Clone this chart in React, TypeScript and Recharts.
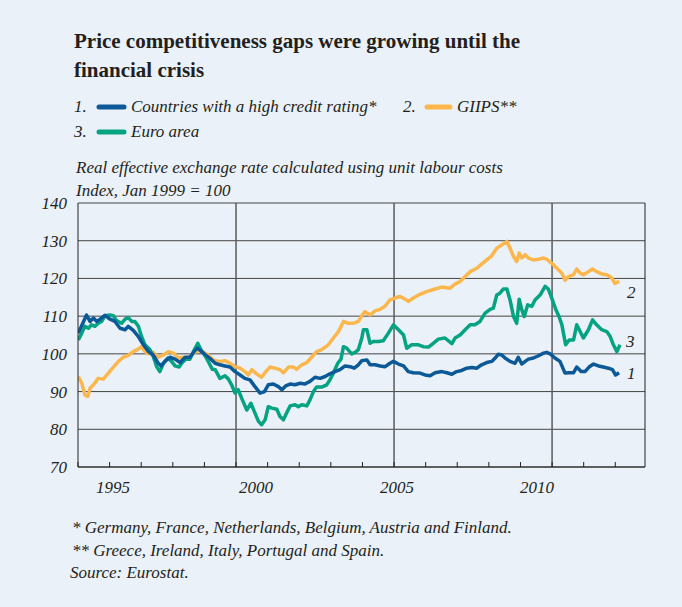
import { LineChart, Line, XAxis, YAxis, CartesianGrid, ReferenceLine } from "recharts";

// [decimal year, index value]
const HIGH_RATING: [number, number][] = [
  [1995.01, 105.5], [1995.27, 110.3], [1995.38, 108.6], [1995.49, 109.5], [1995.59, 108.6],
  [1995.7, 109.2], [1995.85, 110.2], [1996.01, 109.2], [1996.17, 108.6], [1996.33, 106.8],
  [1996.49, 106.4], [1996.59, 107.3], [1996.75, 106.2], [1996.91, 104.6], [1997.07, 102.4],
  [1997.23, 100.6], [1997.38, 99.7], [1997.54, 97.5], [1997.63, 96.8], [1997.75, 98.0],
  [1997.91, 99.1], [1998.07, 98.6], [1998.23, 97.7], [1998.39, 99.1], [1998.54, 99.1],
  [1998.7, 100.9], [1998.79, 101.5], [1998.91, 100.6], [1999.07, 99.5], [1999.23, 98.4],
  [1999.34, 97.5], [1999.49, 97.1], [1999.65, 96.8], [1999.81, 96.5], [1999.97, 95.3],
  [2000.13, 94.4], [2000.28, 93.5], [2000.44, 93.1], [2000.6, 91.3], [2000.76, 89.6],
  [2000.9, 90.0], [2001.02, 91.8], [2001.18, 92.0], [2001.34, 91.3], [2001.45, 90.5],
  [2001.57, 91.5], [2001.71, 92.0], [2001.87, 91.8], [2002.03, 92.2], [2002.18, 92.0],
  [2002.34, 92.7], [2002.5, 93.8], [2002.66, 93.5], [2002.82, 94.0], [2002.97, 94.7],
  [2003.13, 95.3], [2003.29, 95.8], [2003.45, 96.8], [2003.61, 96.6], [2003.74, 96.2],
  [2003.87, 97.1], [2003.98, 98.2], [2004.14, 98.4], [2004.24, 97.1], [2004.4, 97.1],
  [2004.56, 96.8], [2004.72, 96.6], [2004.87, 97.5], [2004.98, 98.0], [2005.14, 97.3],
  [2005.3, 96.8], [2005.45, 95.3], [2005.61, 95.0], [2005.82, 94.9], [2005.98, 94.4],
  [2006.14, 94.2], [2006.3, 95.0], [2006.51, 95.3], [2006.67, 95.0], [2006.83, 94.6],
  [2006.98, 95.3], [2007.14, 95.6], [2007.3, 96.2], [2007.46, 96.4], [2007.62, 96.2],
  [2007.77, 97.1], [2007.93, 97.7], [2008.09, 98.0], [2008.2, 98.9], [2008.3, 99.9],
  [2008.41, 99.7], [2008.51, 98.9], [2008.67, 98.0], [2008.83, 97.5], [2008.93, 99.1],
  [2009.04, 97.3], [2009.15, 98.0], [2009.25, 98.6], [2009.41, 98.9], [2009.57, 99.5],
  [2009.73, 100.2], [2009.83, 100.4], [2009.94, 100.0], [2010.09, 98.9], [2010.25, 98.0],
  [2010.41, 94.9], [2010.54, 95.0], [2010.68, 95.0], [2010.78, 96.5], [2010.92, 95.3],
  [2011.04, 95.3], [2011.17, 96.5], [2011.31, 97.3], [2011.47, 96.8], [2011.62, 96.5],
  [2011.78, 96.2], [2011.91, 95.8], [2012.01, 94.4], [2012.12, 95.0],
];

const GIIPS: [number, number][] = [
  [1995.01, 94.0], [1995.12, 92.2], [1995.22, 89.1], [1995.31, 88.7], [1995.38, 90.9],
  [1995.49, 91.8], [1995.64, 93.5], [1995.8, 93.3], [1995.96, 94.9], [1996.12, 96.5],
  [1996.28, 98.0], [1996.43, 99.1], [1996.59, 99.6], [1996.75, 100.6], [1996.91, 101.3],
  [1997.01, 101.9], [1997.12, 100.6], [1997.23, 100.0], [1997.38, 100.4], [1997.54, 99.1],
  [1997.7, 99.7], [1997.86, 100.6], [1998.02, 100.2], [1998.18, 98.9], [1998.33, 99.1],
  [1998.49, 98.9], [1998.65, 100.2], [1998.81, 100.9], [1998.97, 100.4], [1999.12, 99.7],
  [1999.28, 98.4], [1999.34, 98.2], [1999.49, 98.0], [1999.65, 98.2], [1999.81, 97.5],
  [1999.97, 96.6], [2000.13, 96.2], [2000.28, 95.3], [2000.39, 94.4], [2000.5, 95.8],
  [2000.65, 94.7], [2000.81, 93.8], [2000.97, 95.6], [2001.08, 96.5], [2001.23, 96.2],
  [2001.39, 95.8], [2001.5, 95.0], [2001.66, 96.5], [2001.81, 96.5], [2001.92, 95.9],
  [2002.08, 97.1], [2002.24, 97.7], [2002.39, 99.1], [2002.55, 100.6], [2002.71, 101.1],
  [2002.92, 102.4], [2003.08, 104.2], [2003.24, 105.9], [2003.4, 108.6], [2003.55, 108.1],
  [2003.71, 108.1], [2003.87, 108.6], [2003.98, 110.1], [2004.08, 111.2], [2004.24, 110.3],
  [2004.4, 111.4], [2004.56, 111.8], [2004.72, 112.7], [2004.87, 114.3], [2005.03, 114.8],
  [2005.19, 115.2], [2005.35, 114.5], [2005.45, 113.9], [2005.61, 114.8], [2005.82, 115.8],
  [2006.03, 116.5], [2006.3, 117.2], [2006.51, 117.7], [2006.77, 117.4], [2006.93, 118.5],
  [2007.09, 119.2], [2007.25, 120.5], [2007.41, 121.8], [2007.62, 122.7], [2007.77, 123.8],
  [2007.93, 124.9], [2008.09, 126.0], [2008.25, 128.0], [2008.41, 128.9], [2008.57, 129.8],
  [2008.67, 128.0], [2008.78, 125.8], [2008.88, 124.5], [2008.96, 126.7], [2009.04, 125.4],
  [2009.15, 126.3], [2009.25, 125.4], [2009.41, 124.9], [2009.57, 125.1], [2009.73, 125.4],
  [2009.83, 125.1], [2009.99, 124.0], [2010.15, 122.7], [2010.31, 121.4], [2010.41, 119.5],
  [2010.52, 120.5], [2010.68, 121.0], [2010.78, 122.5], [2010.89, 121.4], [2010.99, 121.0],
  [2011.15, 121.8], [2011.28, 122.5], [2011.41, 121.8], [2011.57, 121.2], [2011.73, 121.0],
  [2011.89, 120.1], [2011.99, 118.7], [2012.12, 119.2],
];

const EURO_AREA: [number, number][] = [
  [1995.01, 103.7], [1995.12, 105.5], [1995.22, 107.3], [1995.33, 106.8], [1995.43, 107.7],
  [1995.54, 107.3], [1995.64, 108.1], [1995.75, 108.6], [1995.85, 110.1], [1996.01, 110.3],
  [1996.12, 110.1], [1996.22, 108.8], [1996.38, 108.1], [1996.49, 109.2], [1996.59, 109.6],
  [1996.7, 108.6], [1996.8, 108.6], [1996.91, 107.3], [1997.01, 104.6], [1997.12, 102.4],
  [1997.28, 101.1], [1997.38, 99.3], [1997.49, 96.6], [1997.59, 95.3], [1997.7, 97.5],
  [1997.84, 98.9], [1997.96, 98.0], [1998.07, 96.8], [1998.2, 96.5], [1998.3, 97.7],
  [1998.41, 98.6], [1998.54, 98.6], [1998.68, 101.1], [1998.79, 102.8], [1998.89, 101.1],
  [1999.02, 99.5], [1999.12, 98.0], [1999.25, 95.9], [1999.34, 95.8], [1999.49, 93.5],
  [1999.65, 94.2], [1999.76, 93.3], [1999.86, 91.8], [1999.97, 89.6], [2000.07, 90.5],
  [2000.18, 88.2], [2000.34, 85.1], [2000.47, 86.9], [2000.6, 84.3], [2000.71, 82.1],
  [2000.81, 81.2], [2000.92, 82.5], [2001.02, 86.0], [2001.13, 85.6], [2001.29, 85.3],
  [2001.39, 83.4], [2001.5, 82.5], [2001.6, 84.3], [2001.71, 86.2], [2001.87, 86.5],
  [2001.97, 86.0], [2002.08, 86.5], [2002.24, 86.2], [2002.34, 87.8], [2002.45, 90.0],
  [2002.55, 91.2], [2002.71, 91.2], [2002.87, 91.8], [2002.97, 93.1], [2003.08, 94.9],
  [2003.22, 97.5], [2003.32, 98.6], [2003.4, 101.9], [2003.5, 101.5], [2003.66, 100.0],
  [2003.77, 100.4], [2003.87, 101.1], [2003.98, 104.2], [2004.03, 106.4], [2004.14, 106.4],
  [2004.24, 102.8], [2004.35, 103.3], [2004.5, 103.3], [2004.66, 103.5], [2004.82, 105.5],
  [2004.98, 107.7], [2005.14, 106.4], [2005.3, 105.0], [2005.4, 101.5], [2005.56, 102.4],
  [2005.77, 102.4], [2005.93, 101.9], [2006.09, 101.8], [2006.24, 102.8], [2006.4, 103.9],
  [2006.61, 104.2], [2006.83, 102.7], [2006.93, 104.2], [2007.09, 105.0], [2007.25, 106.4],
  [2007.41, 107.7], [2007.56, 107.7], [2007.72, 108.6], [2007.88, 110.8], [2008.04, 111.8],
  [2008.14, 112.1], [2008.25, 115.6], [2008.35, 116.1], [2008.46, 117.2], [2008.57, 117.2],
  [2008.67, 114.3], [2008.78, 109.9], [2008.88, 108.1], [2008.96, 114.5], [2009.04, 111.7],
  [2009.12, 109.9], [2009.23, 113.0], [2009.36, 112.6], [2009.46, 114.3], [2009.62, 115.6],
  [2009.78, 117.9], [2009.88, 117.2], [2010.01, 114.3], [2010.12, 111.7], [2010.22, 109.9],
  [2010.31, 107.7], [2010.43, 102.4], [2010.54, 103.7], [2010.68, 103.7], [2010.78, 107.7],
  [2010.89, 105.9], [2010.99, 104.2], [2011.15, 106.4], [2011.28, 109.0], [2011.41, 107.7],
  [2011.57, 106.4], [2011.73, 105.9], [2011.84, 104.6], [2011.94, 102.4], [2012.05, 100.6],
  [2012.15, 102.4],
];

const YEAR_TICKS = [
  1995, 1996, 1997, 1998, 1999, 2000, 2001, 2002, 2003, 2004, 2005, 2006, 2007, 2008,
  2009, 2010, 2011, 2012,
];
const GRID_YEARS = [2000, 2005, 2010];
const Y_TICKS = [70, 80, 90, 100, 110, 120, 130, 140];
const X_MAX = 2012.94;

// labels in the original sit a little off their tick marks
const LABEL_SHIFT: Record<number, number> = { 1995: 35, 2000: 20, 2005: 3, 2010: -15 };

const BLUE = "#0b5a97";
const ORANGE = "#fbb74c";
const GREEN = "#04a382";
const INK = "#231f20";
const BG = "#eaf1f8";
const SERIF = "'Liberation Serif', 'DejaVu Serif', serif";

const toRows = (pts: [number, number][]) => pts.map(([t, v]) => ({ t, v }));

function YearTick({ x, y, payload }: { x?: number; y?: number; payload?: { value: number } }) {
  if (x === undefined || y === undefined || !payload) return null;
  const shift = LABEL_SHIFT[payload.value];
  return (
    <g>
      <line x1={x} x2={x} y1={y - 5} y2={y} stroke="#222" strokeWidth={1} />
      {shift !== undefined && (
        <text
          x={x + shift}
          y={y + 26}
          textAnchor="middle"
          fontFamily={SERIF}
          fontStyle="italic"
          fontSize={17}
          fill={INK}
        >
          {payload.value}
        </text>
      )}
    </g>
  );
}

function ValueTick({ x, y, payload }: { x?: number; y?: number; payload?: { value: number } }) {
  if (x === undefined || y === undefined || !payload) return null;
  return (
    <text
      x={x}
      y={y + 6}
      textAnchor="end"
      fontFamily={SERIF}
      fontStyle="italic"
      fontSize={17}
      fill={INK}
    >
      {payload.value}
    </text>
  );
}

export default function App() {
  const textProps = { fontFamily: SERIF, fill: INK };
  return (
    <div
      style={{
        position: "absolute",
        left: 0,
        top: 0,
        width: 682,
        height: 607,
        background: BG,
      }}
    >
      <LineChart
        width={682}
        height={607}
        margin={{ top: 203, right: 37, bottom: 100, left: 0 }}
      >
        <CartesianGrid vertical={false} stroke="#444" strokeWidth={1} />
        <XAxis
          dataKey="t"
          type="number"
          domain={[1995, X_MAX]}
          ticks={YEAR_TICKS}
          interval={0}
          allowDataOverflow
          height={40}
          tickSize={0}
          tickMargin={0}
          tickLine={false}
          axisLine={{ stroke: "#222" }}
          tick={(p: any) => <YearTick {...p} />}
        />
        <YAxis
          type="number"
          domain={[70, 140]}
          ticks={Y_TICKS}
          width={78}
          tickLine={false}
          tickSize={0}
          tickMargin={11}
          axisLine={{ stroke: "#222" }}
          tick={(p: any) => <ValueTick {...p} />}
        />
        {GRID_YEARS.map((yr) => (
          <ReferenceLine key={yr} x={yr} stroke="#5a5a5a" strokeWidth={1.5} />
        ))}
        <ReferenceLine x={X_MAX} stroke="#222" strokeWidth={1} />
        <Line
          data={toRows(GIIPS)}
          dataKey="v"
          type="linear"
          stroke={ORANGE}
          strokeWidth={3.5}
          strokeLinejoin="round"
          dot={false}
          isAnimationActive={false}
        />
        <Line
          data={toRows(EURO_AREA)}
          dataKey="v"
          type="linear"
          stroke={GREEN}
          strokeWidth={3.5}
          strokeLinejoin="round"
          dot={false}
          isAnimationActive={false}
        />
        <Line
          data={toRows(HIGH_RATING)}
          dataKey="v"
          type="linear"
          stroke={BLUE}
          strokeWidth={3.5}
          strokeLinejoin="round"
          dot={false}
          isAnimationActive={false}
        />
      </LineChart>

      <svg
        width={682}
        height={607}
        style={{ position: "absolute", left: 0, top: 0, pointerEvents: "none" }}
      >
        <text x={74} y={48} fontSize={21} fontWeight="bold" {...textProps}>
          Price competitiveness gaps were growing until the
        </text>
        <text x={74} y={77} fontSize={21} fontWeight="bold" {...textProps}>
          financial crisis
        </text>

        <g fontSize={17} fontStyle="italic" {...textProps}>
          <text x={74} y={112}>1.</text>
          <text x={131} y={112}>Countries with a high credit rating*</text>
          <text x={403} y={112}>2.</text>
          <text x={457} y={112}>GIIPS**</text>
          <text x={74} y={137}>3.</text>
          <text x={131} y={137}>Euro area</text>

          <text x={76} y={173}>Real effective exchange rate calculated using unit labour costs</text>
          <text x={76} y={196}>Index, Jan 1999 = 100</text>

          <text x={627} y={298}>2</text>
          <text x={626} y={347}>3</text>
          <text x={627} y={379}>1</text>

          <text x={72} y={533}>* Germany, France, Netherlands, Belgium, Austria and Finland.</text>
          <text x={72} y={556}>** Greece, Ireland, Italy, Portugal and Spain.</text>
          <text x={70} y={578}>Source: Eurostat.</text>
        </g>
        <line x1={99} x2={124} y1={107} y2={107} stroke={BLUE} strokeWidth={5} strokeLinecap="round" />
        <line x1={427} x2={450} y1={107} y2={107} stroke={ORANGE} strokeWidth={5} strokeLinecap="round" />
        <line x1={99} x2={124} y1={132} y2={132} stroke={GREEN} strokeWidth={5} strokeLinecap="round" />
      </svg>
    </div>
  );
}
